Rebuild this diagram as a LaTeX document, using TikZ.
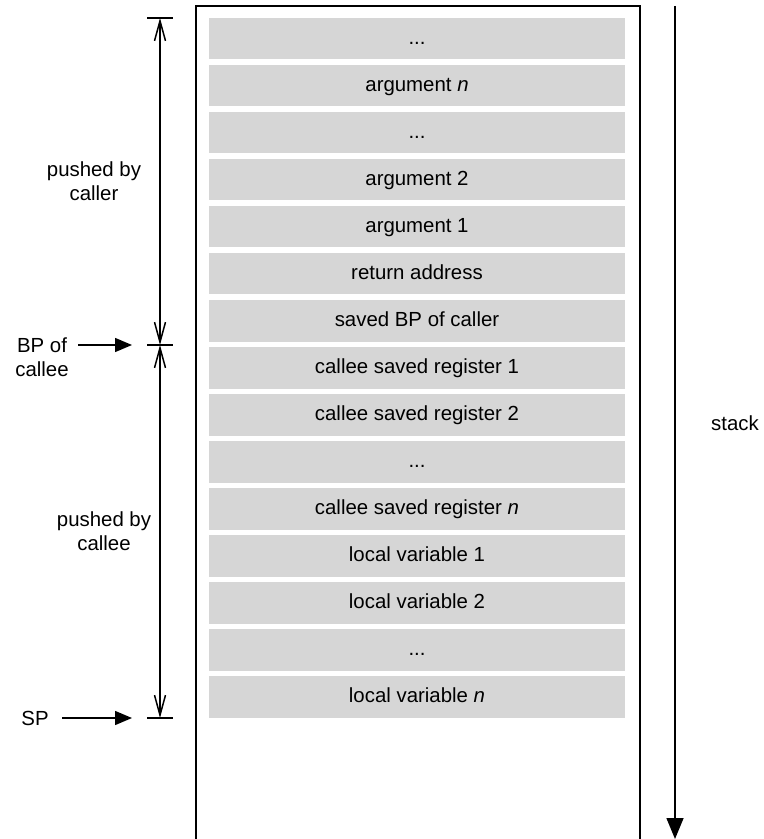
\documentclass[tikz,border=0pt]{standalone}
\usepackage{fontspec}
\setmainfont{Liberation Sans}
\usetikzlibrary{arrows.meta}
\definecolor{slotgray}{RGB}{214,214,214}
\newcommand\slotdots{...}
\begin{document}
\begin{tikzpicture}[x=0.5pt,y=-0.5pt,line width=0.75pt,
  slot/.style={fill=slotgray,minimum width=208pt,minimum height=20.75pt,inner sep=0pt,text height=7.3pt,text depth=1.8pt,font=\fontsize{10.2}{12}\selectfont},
  lbl/.style={align=center,inner sep=0pt,font=\fontsize{10.2}{12}\selectfont},
  dim/.style={{Straight Barb[length=10pt,width=5.5pt]}-{Straight Barb[length=10pt,width=5.5pt]}},
  ptr/.style={-{Triangle[length=8.5pt,width=7pt]}}]
\useasboundingbox (0,0) rectangle (764,839);
% stack frame
\draw (196,839) -- (196,6) -- (640,6) -- (640,839);
\foreach \i/\t in {0/\slotdots, 1/argument \textit{n}, 2/\slotdots, 3/argument 2, 4/argument 1, 5/return address, 6/saved BP of caller, 7/callee saved register 1, 8/callee saved register 2, 9/\slotdots, 10/callee saved register \textit{n}, 11/local variable 1, 12/local variable 2, 13/\slotdots, 14/local variable \textit{n}}
  \node[slot] (s\i) at (417,38.75+47*\i) {\t};
%
\coordinate (top) at (160,18);
\coordinate (bp) at (160,345);
\coordinate (sp) at (160,718);
\foreach \c in {top,bp,sp}
  \draw ([xshift=-6.5pt]\c) -- ([xshift=6.5pt]\c);
\draw[dim] (top) -- (bp);
\draw[dim] (bp) -- (sp);
\node[lbl] (caller) at (94,181) {pushed by\\caller};
\node[lbl] (callee) at (104,531) {pushed by\\callee};
%
\coordinate (bpfrom) at (78,345);
\coordinate (bptip) at (132,345);
\draw[ptr] (bpfrom) -- (bptip);
\node[lbl] (bplbl) at (42,357.5) {BP of\\callee};
\coordinate (spfrom) at (62,718);
\coordinate (sptip) at (132,718);
\draw[ptr] (spfrom) -- (sptip);
\node[lbl] (splbl) at (35,718) {SP};
%
\coordinate (stacktop) at (675,6);
\coordinate (stackend) at (675,839);
\draw[-{Triangle[length=10.5pt,width=8.5pt]}] (stacktop) -- (stackend);
\node[lbl] (stack) at (735,423) {stack};
\end{tikzpicture}
\end{document}
